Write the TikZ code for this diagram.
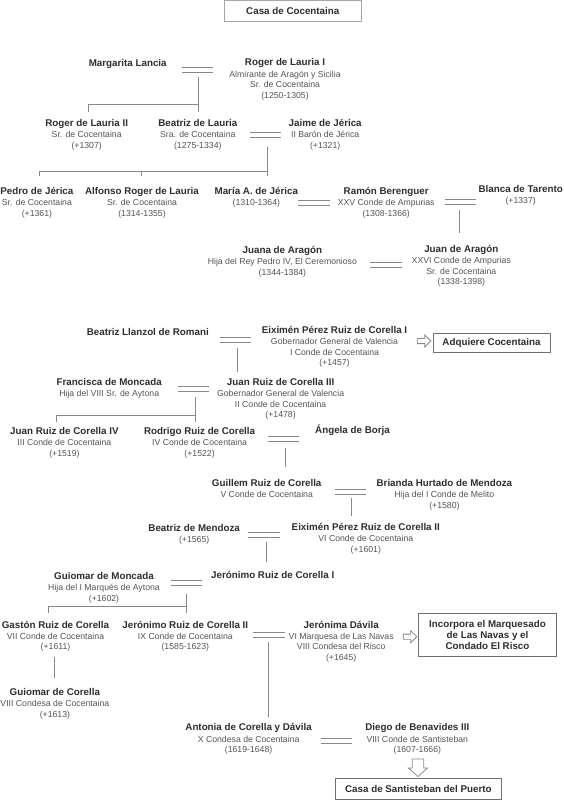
\documentclass[tikz,border=0pt]{standalone}
\usepackage{fontspec}
\setmainfont{Liberation Sans}
\definecolor{namec}{HTML}{2E2E2E}
\definecolor{subc}{HTML}{555555}
\definecolor{linec}{HTML}{888888}
\definecolor{boxc}{HTML}{707070}
\newcommand\namef{\fontsize{9.8}{10.5}\selectfont\bfseries}
\newcommand\subf{\fontsize{8.7}{10.5}\selectfont}
\newcommand\pp[5]{\node[pers] (#1) at (#2,#3) {\begin{tabular}[t]{@{}c@{}}{\color{namec}\namef #4}#5\end{tabular}};}
\newcommand\marr[3]{\node[marrsign] (#1) at (#2,#3+2.25) {};
  \draw[ln] (#1.north west) -- (#1.north east);
  \draw[ln] (#1.south west) -- (#1.south east);}
\tikzset{
  ln/.style={draw=linec,line width=0.8pt},
  arr/.style={draw=linec,line width=0.8pt,fill=white},
  pers/.style={inner sep=0pt,anchor=base,text=subc,font=\subf},
  marrsign/.style={minimum width=31pt,minimum height=4.5pt,inner sep=0pt,draw=none},
  box/.style={draw=boxc,line width=0.8pt,inner sep=0pt,text=namec,font=\namef,align=center},
  rarr/.pic={\draw[arr] (0,-2.6)--(7.5,-2.6)--(7.5,-6)--(13.5,0)--(7.5,6)--(7.5,2.6)--(0,2.6)--cycle;},
  darr/.pic={\draw[arr] (-5.8,0)--(5.8,0)--(5.8,9)--(9.5,9)--(0,17.5)--(-9.5,9)--(-5.8,9)--cycle;}
}
\begin{document}
\begin{tikzpicture}[x=1pt,y=-1pt]
\useasboundingbox[fill=white] (0,0) rectangle (564,800);

% boxes
\node[box,draw=black!35,minimum width=136.5pt,minimum height=21pt] (casa) at (292.8,11) {Casa de Cocentaina};
\node[box,minimum width=117pt,minimum height=19pt] (adq) at (491.5,342.5) {Adquiere Cocentaina};
\node[box,minimum width=138.4pt,minimum height=43.4pt,font=\fontsize{9.8}{11.2}\selectfont\bfseries] (inc) at (487.5,635) {Incorpora el Marquesado\\de Las Navas y el\\Condado El Risco};
\node[box,minimum width=166.8pt,minimum height=21pt] (sant) at (418.4,789) {Casa de Santisteban del Puerto};

% persons
\pp{margarita}{127.7}{66.5}{Margarita Lancia}{}
\pp{roger1}{285}{66}{Roger de Lauria I}{\\[0.8pt]Almirante de Aragón y Sicilia\\Sr. de Cocentaina\\(1250-1305)}
\pp{roger2}{86.7}{126.5}{Roger de Lauria II}{\\[0.8pt]Sr. de Cocentaina\\(+1307)}
\pp{beatriz}{197.8}{126.5}{Beatriz de Lauria}{\\[0.8pt]Sra. de Cocentaina\\(1275-1334)}
\pp{jaime}{325.2}{126.5}{Jaime de Jérica}{\\[0.8pt]II Barón de Jérica\\(+1321)}
\pp{pedro}{36.9}{194.5}{Pedro de Jérica}{\\[0.8pt]Sr. de Cocentaina\\(+1361)}
\pp{alfonso}{142}{194.5}{Alfonso Roger de Lauria}{\\[0.8pt]Sr. de Cocentaina\\(1314-1355)}
\pp{maria}{256.3}{194.5}{María A. de Jérica}{\\[0.8pt](1310-1364)}
\pp{ramon}{386.2}{194.5}{Ramón Berenguer}{\\[0.8pt]XXV Conde de Ampurias\\(1308-1366)}
\pp{blanca}{520.7}{192.5}{Blanca de Tarento}{\\[0.8pt](+1337)}
\pp{juana}{282.4}{253.5}{Juana de Aragón}{\\[0.8pt]Hija del Rey Pedro IV, El Ceremonioso\\(1344-1384)}
\pp{juanA}{461.3}{252.5}{Juan de Aragón}{\\[0.8pt]XXVI Conde de Ampurias\\Sr. de Cocentaina\\(1338-1398)}
\pp{llanzol}{147.8}{335.5}{Beatriz Llanzol de Romani}{}
\pp{eximen1}{334.5}{333.5}{Eiximén Pérez Ruiz de Corella I}{\\[0.8pt]Gobernador General de Valencia\\I Conde de Cocentaina\\(+1457)}
\pp{francisca}{109.2}{385.2}{Francisca de Moncada}{\\[0.8pt]Hija del VIII Sr. de Aytona}
\pp{juan3}{280.6}{385.2}{Juan Ruiz de Corella III}{\\[0.8pt]Gobernador General de Valencia\\II Conde de Cocentaina\\(+1478)}
\pp{juan4}{64.4}{434.2}{Juan Ruiz de Corella IV}{\\[0.8pt]III Conde de Cocentaina\\(+1519)}
\pp{rodrigo}{199.6}{434.2}{Rodrigo Ruiz de Corella}{\\[0.8pt]IV Conde de Cocentaina\\(+1522)}
\pp{angela}{352.5}{433.5}{Ángela de Borja}{}
\pp{guillem}{266.7}{486.2}{Guillem Ruiz de Corella}{\\[0.8pt]V Conde de Cocentaina}
\pp{brianda}{444.4}{486.2}{Brianda Hurtado de Mendoza}{\\[0.8pt]Hija del I Conde de Melito\\(+1580)}
\pp{beatrizm}{194.2}{531.2}{Beatriz de Mendoza}{\\[0.8pt](+1565)}
\pp{eximen2}{365.8}{530.2}{Eiximén Pérez Ruiz de Corella II}{\\[0.8pt]VI Conde de Cocentaina\\(+1601)}
\pp{guiomar}{104}{579.2}{Guiomar de Moncada}{\\[0.8pt]Hija del I Marqués de Aytona\\(+1602)}
\pp{jeronimo1}{272.7}{578.5}{Jerónimo Ruiz de Corella I}{}
\pp{gaston}{55.5}{628}{Gastón Ruiz de Corella}{\\[0.8pt]VII Conde de Cocentaina\\(+1611)}
\pp{jeronimo2}{185.3}{628}{Jerónimo Ruiz de Corella II}{\\[0.8pt]IX Conde de Cocentaina\\(1585-1623)}
\pp{jeronima}{341.2}{628}{Jerónima Dávila}{\\[0.8pt]VI Marquesa de Las Navas\\VIII Condesa del Risco\\(+1645)}
\pp{guiomarc}{54.9}{695.2}{Guiomar de Corella}{\\[0.8pt]VIII Condesa de Cocentaina\\(+1613)}
\pp{antonia}{248.6}{730.8}{Antonia de Corella y Dávila}{\\[0.8pt]X Condesa de Cocentaina\\(1619-1648)}
\pp{diego}{417.3}{730.8}{Diego de Benavides III}{\\[0.8pt]VIII Conde de Santisteban\\(1607-1666)}

% marriages
\marr{m1}{197.3}{68}
\marr{m2}{265.5}{133}
\marr{m3}{313.8}{201}
\marr{m4}{460.6}{199.3}
\marr{m5}{386.1}{262.7}
\marr{m6}{235.4}{337.5}
\marr{m7}{193.3}{386.7}
\marr{m8}{283.3}{437}
\marr{m9}{350.3}{489.3}
\marr{m10}{264}{532.5}
\marr{m11}{186.5}{580.3}
\marr{m12}{268.9}{632.7}
\marr{m13}{336.3}{738.5}

% connector end points
\coordinate (t-roger2) at (88.8,112);
\coordinate (t-beatriz) at (198,112);
\coordinate (b1) at (198,104);
\coordinate (b2) at (267,171);
\coordinate (t-pedro) at (39.2,175.5);
\coordinate (t-alfonso) at (141,175.5);
\coordinate (t-maria) at (267,175.5);
\coordinate (t-juanA) at (459.7,233);
\coordinate (t-juan3) at (237.4,371.7);
\coordinate (b7) at (195.3,415);
\coordinate (t-juan4) at (56.5,421.7);
\coordinate (t-rodrigo) at (195.3,421.7);
\coordinate (t-guillem) at (285.3,466.7);
\coordinate (t-eximen2) at (351.8,516);
\coordinate (t-jeronimo1) at (266.2,561.7);
\coordinate (b11) at (186,606.7);
\coordinate (t-gaston) at (48.3,613);
\coordinate (t-jeronimo2) at (186,613);
\coordinate (t-antonia) at (268,716.7);
\coordinate (f-gaston) at (54,656.7);
\coordinate (t-guiomarc) at (54,678.3);

% descent lines
\draw[ln] ([yshift=-4.5pt]m1.south -| b1) -- (t-beatriz);
\draw[ln] (b1) -| (t-roger2);
\draw[ln] ([yshift=-9.5pt]m2.south -| b2) -- (t-maria);
\draw[ln] (b2) -| (t-pedro);
\draw[ln] (b2 -| t-alfonso) -- (t-alfonso);
\draw[ln] ([yshift=-6pt]m4.south -| t-juanA) -- (t-juanA);
\draw[ln] ([yshift=-6pt]m6.south -| t-juan3) -- (t-juan3);
\draw[ln] ([yshift=-6pt]m7.south -| b7) -- (t-rodrigo);
\draw[ln] (b7) -| (t-juan4);
\draw[ln] ([yshift=-6.5pt]m8.south -| t-guillem) -- (t-guillem);
\draw[ln] ([yshift=-3.5pt]m9.south -| t-eximen2) -- (t-eximen2);
\draw[ln] ([yshift=-4.5pt]m10.south -| t-jeronimo1) -- (t-jeronimo1);
\draw[ln] ([yshift=-8.5pt]m11.south -| b11) -- (t-jeronimo2);
\draw[ln] (b11) -| (t-gaston);
\draw[ln] ([yshift=-5pt]m12.south -| t-antonia) -- (t-antonia);
\draw[ln] (f-gaston) -- (t-guiomarc);

% hollow arrows
\pic at (417.3,341) {rarr};
\pic at (403.3,636.7) {rarr};
\pic at (418,759) {darr};
\end{tikzpicture}
\end{document}
